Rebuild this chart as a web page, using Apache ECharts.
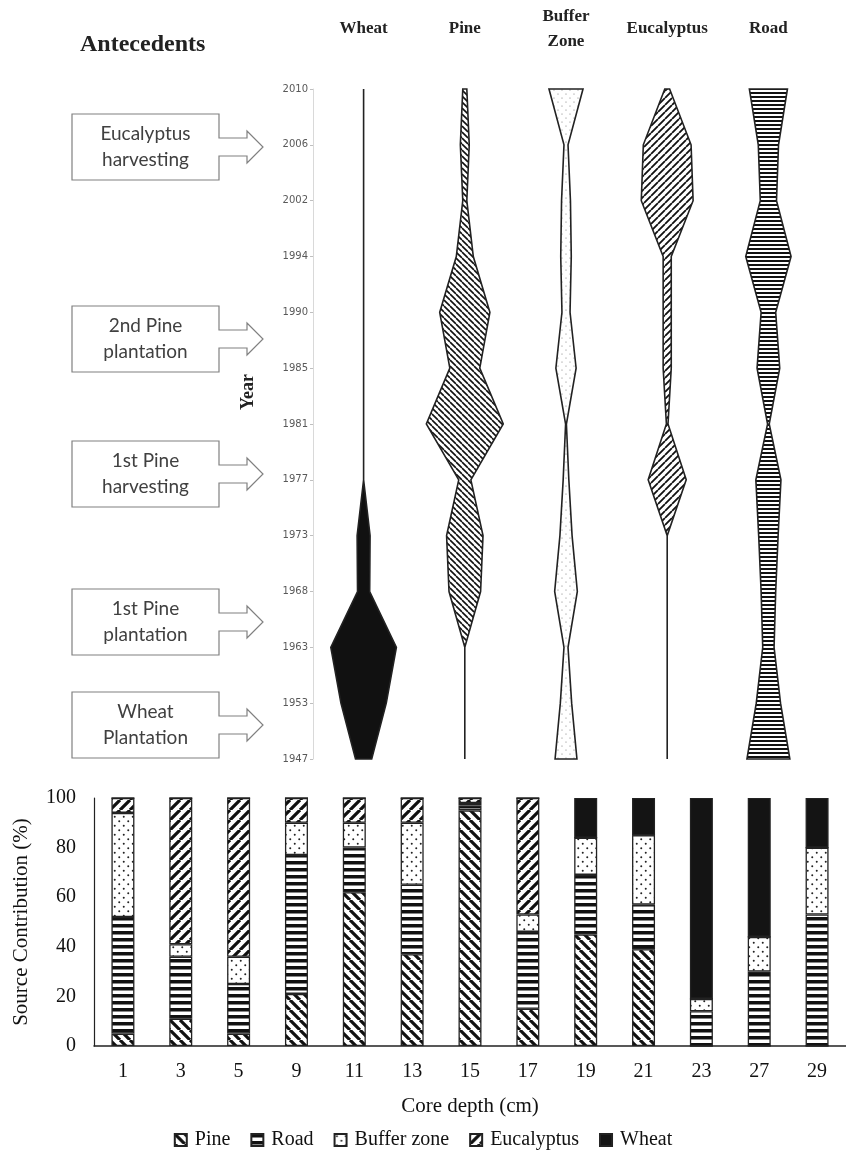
<!DOCTYPE html>
<html>
<head>
<meta charset="utf-8">
<script src="https://cdn.jsdelivr.net/npm/echarts@6/dist/echarts.min.js"></script>
<style>
  html, body { margin: 0; padding: 0; background: #fff; }
  #main { width: 846px; height: 1155px; }
</style>
</head>
<body>
<div id="main"></div>
<script>
// core depths (bar chart) and matching years (kite diagram), top to bottom
var depths = ['1', '3', '5', '9', '11', '13', '15', '17', '19', '21', '23', '27', '29'];
var years = ['2010', '2006', '2002', '1994', '1990', '1985', '1981', '1977', '1973', '1968', '1963', '1953', '1947'];

// source contributions (%) per depth
var pine   = [5, 11, 5, 21, 62, 37, 95, 15, 45, 39, 0, 0, 0];
var road   = [47, 25, 20, 56, 18, 28, 2, 31, 24, 18, 14, 30, 53];
var buffer = [42, 5, 11, 13, 10, 25, 1, 7, 15, 28, 5, 14, 27];
var euc    = [6, 59, 64, 10, 10, 10, 2, 47, 0, 0, 0, 0, 0];
var wheat  = [0, 0, 0, 0, 0, 0, 0, 0, 16, 15, 81, 56, 20];

var kiteColumns = ['Wheat', 'Pine', 'Buffer\nZone', 'Eucalyptus', 'Road'];
var annotations = ['Eucalyptus\nharvesting', '2nd Pine\nplantation', '1st Pine\nharvesting', '1st Pine\nplantation', 'Wheat\nPlantation'];

var SERIF = '"Liberation Serif", "Times New Roman", serif';

// ---- fill patterns ----
function tile(w, h) {
    var c = document.createElement('canvas');
    c.width = w; c.height = h;
    var g = c.getContext('2d');
    g.fillStyle = '#fff';
    g.fillRect(0, 0, w, h);
    return {c: c, g: g};
}
function diagPattern(size, lw, back) {
    var t = tile(size, size), g = t.g;
    g.strokeStyle = '#111';
    g.lineWidth = lw;
    g.beginPath();
    for (var o = -size; o <= size; o += size) {
        if (back) { g.moveTo(o, 0); g.lineTo(o + size, size); }
        else { g.moveTo(o, size); g.lineTo(o + size, 0); }
    }
    g.stroke();
    return {type: 'pattern', image: t.c, repeat: 'repeat'};
}
function hPattern(h, band) {
    var t = tile(4, h);
    t.g.fillStyle = '#111';
    t.g.fillRect(0, 0, 4, band);
    return {type: 'pattern', image: t.c, repeat: 'repeat'};
}
function dotPattern(size, r, color) {
    var t = tile(size, size), g = t.g;
    g.fillStyle = color;
    g.beginPath();
    g.arc(size / 4, size / 4, r, 0, Math.PI * 2);
    g.arc(size * 3 / 4, size * 3 / 4, r, 0, Math.PI * 2);
    g.fill();
    return {type: 'pattern', image: t.c, repeat: 'repeat'};
}

var barFill = {
    pine: diagPattern(10, 3.2, true),
    road: hPattern(7, 3.5),
    buffer: dotPattern(9, 1, '#222'),
    euc: diagPattern(10, 3.2, false),
    wheat: '#141414'
};
var kiteFill = {
    wheat: '#111',
    pine: diagPattern(6, 1.6, true),
    buffer: dotPattern(8, 0.6, '#777'),
    euc: diagPattern(7, 1.8, false),
    road: hPattern(4, 2)
};

// ---- kite diagram (custom series) ----
function kiteSeries(name, values, col, fill) {
    return {
        type: 'custom',
        name: 'kite-' + name,
        xAxisIndex: 0,
        yAxisIndex: 0,
        silent: true,
        data: [[col]],
        renderItem: function (params, api) {
            var band = api.size([1, 0])[0];
            var right = [], left = [];
            for (var i = 0; i < values.length; i++) {
                var p = api.coord([col, i]);
                var hw = values[i] / 100 * band * 0.4;
                right.push([p[0] + hw, p[1]]);
                left.unshift([p[0] - hw, p[1]]);
            }
            return {
                type: 'polygon',
                shape: {points: right.concat(left)},
                style: {fill: fill, stroke: '#222', lineWidth: 1.6}
            };
        }
    };
}

function barSeries(name, values, fill) {
    return {
        type: 'bar',
        name: name,
        stack: 'total',
        xAxisIndex: 1,
        yAxisIndex: 1,
        barWidth: 23,
        data: values,
        itemStyle: {color: fill, borderColor: '#222', borderWidth: 1.3}
    };
}

// ---- annotation boxes with arrows ----
var boxCenters = [147, 339, 474, 622, 725];
var graphics = [
    {type: 'text', left: 80, top: 33,
     style: {text: 'Antecedents', font: 'bold 24px ' + SERIF, fill: '#222'}},
    {type: 'text', x: 248, y: 392, rotation: Math.PI / 2,
     style: {text: 'Year', font: 'bold 18px ' + SERIF, fill: '#222', align: 'center', verticalAlign: 'middle'}}
];
annotations.forEach(function (label, i) {
    var cy = boxCenters[i];
    var x0 = 72, x1 = 219, xs = 247, xt = 263, h = 33, sh = 9, hh = 16;
    graphics.push({
        type: 'polygon',
        shape: {points: [
            [x0, cy - h], [x1, cy - h], [x1, cy - sh], [xs, cy - sh], [xs, cy - hh], [xt, cy],
            [xs, cy + hh], [xs, cy + sh], [x1, cy + sh], [x1, cy + h], [x0, cy + h]
        ]},
        style: {fill: '#fff', stroke: '#808080', lineWidth: 1.2}
    });
    graphics.push({
        type: 'text', x: (x0 + x1) / 2, y: cy,
        style: {text: label, font: '19px Lato, "Open Sans", sans-serif', fill: '#404040',
                align: 'center', verticalAlign: 'middle', lineHeight: 26}
    });
});

var myChart = echarts.init(document.getElementById('main'), null, {renderer: 'canvas'});
var option = {
    backgroundColor: '#fff',
    animation: false,
    grid: [
        {left: 313, top: 89, width: 506, height: 670},
        {left: 94, top: 798, width: 752, height: 248}
    ],
    xAxis: [
        {
            type: 'category', gridIndex: 0, position: 'top',
            data: kiteColumns,
            axisLine: {show: false}, axisTick: {show: false},
            axisLabel: {
                interval: 0, margin: 60, verticalAlign: 'middle',
                fontFamily: SERIF, fontWeight: 'bold', fontSize: 17, color: '#222', lineHeight: 25
            }
        },
        {
            type: 'category', gridIndex: 1,
            data: depths,
            name: 'Core depth (cm)', nameLocation: 'middle', nameGap: 50,
            nameTextStyle: {fontFamily: SERIF, fontSize: 21, color: '#111'},
            axisLine: {lineStyle: {color: '#222', width: 1.5}},
            axisTick: {show: false},
            axisLabel: {interval: 0, margin: 16, fontFamily: SERIF, fontSize: 20, color: '#111'}
        }
    ],
    yAxis: [
        {
            type: 'category', gridIndex: 0, inverse: true, boundaryGap: false,
            data: years,
            axisLine: {lineStyle: {color: '#d9d9d9'}},
            axisTick: {show: true, length: 3, lineStyle: {color: '#bfbfbf'}},
            axisLabel: {margin: 5, fontSize: 10, color: '#595959', fontFamily: '"DejaVu Sans", sans-serif'},
            splitLine: {show: false}
        },
        {
            type: 'value', gridIndex: 1, min: 0, max: 100, interval: 20,
            name: 'Source Contribution (%)', nameLocation: 'middle', nameGap: 62,
            nameTextStyle: {fontFamily: SERIF, fontSize: 21, color: '#111'},
            axisLine: {show: true, lineStyle: {color: '#222', width: 1.2}},
            axisTick: {show: false},
            axisLabel: {margin: 18, fontFamily: SERIF, fontSize: 20, color: '#111'},
            splitLine: {show: false}
        }
    ],
    legend: {
        data: ['Pine', 'Road', 'Buffer zone', 'Eucalyptus', 'Wheat'],
        top: 1125, left: 'center',
        itemWidth: 12, itemHeight: 12, itemGap: 20,
        icon: 'rect',
        textStyle: {fontFamily: SERIF, fontSize: 20, color: '#111', padding: [0, 0, 0, 3]}
    },
    graphic: graphics,
    series: [
        kiteSeries('Wheat', wheat, 0, kiteFill.wheat),
        kiteSeries('Pine', pine, 1, kiteFill.pine),
        kiteSeries('Buffer', buffer, 2, kiteFill.buffer),
        kiteSeries('Eucalyptus', euc, 3, kiteFill.euc),
        kiteSeries('Road', road, 4, kiteFill.road),
        barSeries('Pine', pine, barFill.pine),
        barSeries('Road', road, barFill.road),
        barSeries('Buffer zone', buffer, barFill.buffer),
        barSeries('Eucalyptus', euc, barFill.euc),
        barSeries('Wheat', wheat, barFill.wheat)
    ]
};
myChart.setOption(option);
</script>
</body>
</html>
